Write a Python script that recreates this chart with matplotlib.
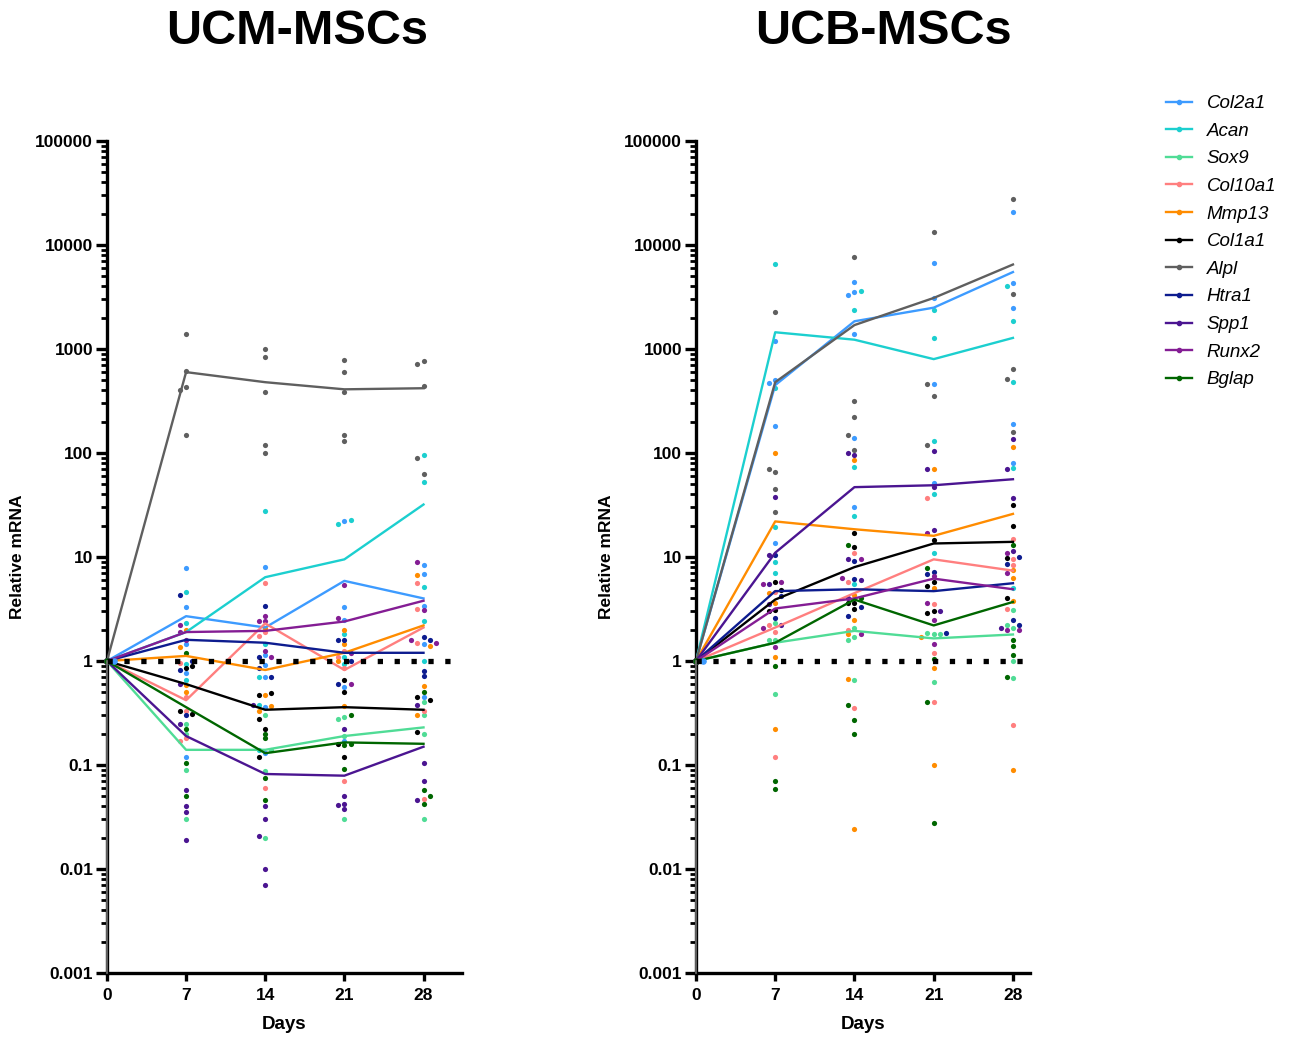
import numpy as np
import matplotlib
matplotlib.use("Agg")
import matplotlib.pyplot as plt
from matplotlib.ticker import LogLocator, FixedLocator, FixedFormatter, NullFormatter
from matplotlib.lines import Line2D

plt.rcParams['font.family'] = ['Liberation Sans', 'DejaVu Sans']

genes = ["Col2a1", "Acan", "Sox9", "Col10a1", "Mmp13", "Col1a1",
         "Alpl", "Htra1", "Spp1", "Runx2", "Bglap"]
colors = ["#3d9bff", "#1ccfcf", "#50dc96", "#ff7f7f", "#ff8c00", "#000000",
          "#5f5f5f", "#0d1c8f", "#4b1591", "#841d94", "#006600"]
days = [0, 7, 14, 21, 28]

# mean lines (day 7, 14, 21, 28), day 0 = 1
ucm_mean = [
    [2.7, 2.1, 5.9, 4.0],      # Col2a1
    [1.9, 6.4, 9.5, 32],       # Acan
    [0.14, 0.14, 0.19, 0.23],  # Sox9
    [0.42, 2.3, 0.82, 2.1],    # Col10a1
    [1.12, 0.82, 1.2, 2.2],    # Mmp13
    [0.6, 0.34, 0.36, 0.34],   # Col1a1
    [600, 480, 410, 420],      # Alpl
    [1.6, 1.5, 1.2, 1.2],      # Htra1
    [0.19, 0.082, 0.079, 0.15],  # Spp1
    [1.9, 1.95, 2.4, 3.8],     # Runx2
    [0.36, 0.13, 0.165, 0.16], # Bglap
]
ucb_mean = [
    [450, 1850, 2500, 5500],
    [1450, 1230, 800, 1280],
    [1.5, 1.95, 1.65, 1.8],
    [2.1, 4.5, 9.5, 7.4],
    [22, 18.5, 16, 26],
    [3.9, 8, 13.5, 14],
    [480, 1700, 3100, 6500],
    [4.7, 4.9, 4.7, 5.6],
    [11, 47, 49, 56],
    [3.2, 4, 6.2, 4.9],
    [1.5, 3.9, 2.2, 3.7],
]

# individual replicates (day 7, 14, 21, 28)
ucm_pts = [
    [[7.8, 3.3, 1.45, 0.77, 0.12], [8.0, 1.14, 0.92, 0.7, 0.36, 0.13], [22, 3.3, 2.5, 0.56, 0.17], [8.4, 6.9, 3.4, 1.45, 0.45]],
    [[4.6, 2.3, 0.94, 0.66], [27.6, 1.45, 0.7, 0.38, 0.14], [21, 22.5, 1.8, 0.94, 1.1], [95, 53, 5.2, 2.4, 1.0]],
    [[0.25, 0.2, 0.09, 0.03], [0.3, 0.14, 0.088, 0.02], [0.29, 0.28, 0.19, 0.03], [0.4, 0.3, 0.2, 0.03]],
    [[0.95, 0.45, 0.33, 0.18, 0.17], [5.6, 1.9, 1.75, 0.06], [1.25, 1.1, 0.85, 0.07], [5.6, 3.2, 1.5, 0.33, 0.047]],
    [[2.0, 1.36, 0.59, 0.5], [2.1, 0.47, 0.37, 0.33], [2.0, 1.45, 1.0, 0.37], [6.7, 1.4, 0.57, 0.3]],
    [[0.9, 0.85, 0.33, 0.31], [0.47, 0.49, 0.28, 0.22, 0.12], [0.66, 0.5, 0.16, 0.12], [0.45, 0.42, 0.21]],
    [[1400, 620, 430, 400, 150], [1000, 830, 390, 120, 100], [780, 600, 390, 150, 130], [760, 720, 440, 90, 63]],
    [[4.3, 1.0, 0.82, 0.3], [3.4, 1.1, 0.85, 0.7], [1.6, 1.6, 1.0, 0.6], [1.7, 1.6, 0.72, 0.8]],
    [[0.6, 0.25, 0.057, 0.04, 0.035, 0.019], [0.38, 0.04, 0.03, 0.021, 0.01, 0.007], [0.22, 0.05, 0.042, 0.041, 0.038], [0.38, 0.105, 0.07, 0.046]],
    [[2.2, 1.6, 1.9], [2.7, 2.4, 2.4, 1.25, 1.1], [5.4, 2.6, 1.2, 0.6], [9, 1.6, 1.5, 3.1]],
    [[1.2, 0.22, 0.105, 0.05], [0.2, 0.18, 0.075, 0.046], [0.3, 0.16, 0.155, 0.092], [0.5, 0.05, 0.057, 0.042]],
]
ucb_pts = [
    [[1200, 500, 470, 180, 13.5], [4400, 3500, 3300, 1400, 140, 30], [6700, 3100, 460, 52], [21000, 4300, 2500, 190, 80]],
    [[6600, 420, 19.5, 9, 7], [3600, 2400, 73, 25, 5.5], [2400, 1270, 130, 40, 11], [4000, 1850, 480, 72, 5]],
    [[2.3, 1.6, 1.6, 0.48], [2.1, 1.7, 1.6, 0.66], [1.8, 1.85, 1.8, 0.63], [2.1, 2.2, 3.1, 1.0, 0.68]],
    [[4.6, 2.2, 1.9, 0.12], [11, 5.8, 2.0, 0.35], [37, 3.5, 1.2, 0.4], [15, 9.5, 8.4, 3.2, 0.24]],
    [[100, 4.5, 3.6, 1.1, 0.22], [85, 4.3, 2.5, 1.8, 0.67, 0.024], [70, 5.0, 1.7, 0.85, 0.1], [115, 7.5, 6.3, 3.8, 0.09]],
    [[5.8, 4.8, 3.1, 3.0], [17, 12.5, 3.6, 3.2, 3.6], [14.6, 5.8, 5.3, 3.0, 2.9], [32, 20, 9.8, 4.0]],
    [[2250, 66, 70, 45, 27], [7600, 320, 220, 150, 106], [13300, 460, 350, 120], [27500, 3400, 650, 520, 160]],
    [[10.5, 4.2, 2.6], [9.2, 6.2, 3.3, 2.7], [7.2, 6.8, 1.85], [10, 8.5, 2.5, 2.2]],
    [[38, 10.5, 5.5, 3.5, 2.2], [100, 95, 9.5, 6, 4], [105, 70, 47, 18, 3], [135, 70, 37, 11.5, 2.1]],
    [[5.8, 5.5, 2.1, 1.35], [9.5, 6.3, 1.8], [17, 3.6, 2.5, 1.45, 6.5], [11, 7, 2.0, 2.0]],
    [[0.9, 0.059, 0.07], [13, 4.0, 0.38, 0.27, 0.2], [7.8, 1.05, 0.4, 0.028], [13, 1.6, 1.4, 1.15, 0.7]],
]


def jitter(pts):
    # spread overlapping dots sideways like the original dot plot
    out = []
    for d in range(4):
        items = [(np.log10(v), g) for g in range(len(pts)) for v in pts[g][d]]
        placed = []
        for lv, g in items:
            for off in [0, -0.55, 0.55, -1.1, 1.1]:
                if all(abs(lv - pl) > 0.04 for pl, po in placed if po == off):
                    break
            placed.append((lv, off))
            out.append((g, days[d + 1] + off, 10 ** lv))
    return out


fig = plt.figure(figsize=(12.9, 10.41), dpi=100)
ax1 = fig.add_axes([0.0829, 0.0653, 0.2752, 0.7992])
ax2 = fig.add_axes([0.5395, 0.0653, 0.2589, 0.7992])

for ax, means, pts, xmax in [(ax1, ucm_mean, ucm_pts, 31.4), (ax2, ucb_mean, ucb_pts, 29.5)]:
    ax.set_yscale('log')
    ax.set_ylim(0.001, 100000)
    ax.set_xlim(0, xmax)
    for g in range(len(genes)):
        ax.plot(days, [1] + means[g], color=colors[g], lw=1.7, zorder=3)
        ax.scatter([0], [1], s=14, color=colors[g], zorder=4, clip_on=False)
    ax.scatter([0.6], [1], s=14, color=colors[0], zorder=4)
    for g, x, v in jitter(pts):
        ax.scatter([x], [v], s=14, color=colors[g], zorder=2, linewidths=0)
    ax.plot([0, xmax], [1, 1], color='black', lw=3.8, ls=(0, (1, 2.2)),
            dash_capstyle='butt', zorder=5)
    ax.plot([0, 0], [0.001, 1], color='#707070', lw=1.2, zorder=6, clip_on=False)

    for s in ['top', 'right']:
        ax.spines[s].set_visible(False)
    for s in ['left', 'bottom']:
        ax.spines[s].set_linewidth(2.4)
    ax.yaxis.set_major_locator(FixedLocator([0.001, 0.01, 0.1, 1, 10, 100, 1000, 10000, 100000]))
    ax.yaxis.set_major_formatter(FixedFormatter(['0.001', '0.01', '0.1', '1', '10', '100', '1000', '10000', '100000']))
    ax.yaxis.set_minor_locator(LogLocator(base=10, subs=np.arange(2, 10), numticks=20))
    ax.yaxis.set_minor_formatter(NullFormatter())
    ax.tick_params(axis='y', which='major', length=8, width=2.4, labelsize=12.5, pad=2)
    ax.tick_params(axis='y', which='minor', length=4.5, width=2)
    ax.set_xticks([0, 7, 14, 21, 28])
    ax.tick_params(axis='x', which='major', length=6, width=2.4, labelsize=12.5, pad=5)
    for lab in ax.get_xticklabels() + ax.get_yticklabels():
        lab.set_fontweight('bold')
    ax.set_xlabel('Days', fontsize=13.5, fontweight='bold', labelpad=9)
    ax.set_ylabel('Relative mRNA', fontsize=12.5, fontweight='bold', labelpad=7)

fig.text(0.230, 0.970, 'UCM-MSCs', fontsize=35, fontweight='bold', ha='center', va='center')
fig.text(0.685, 0.970, 'UCB-MSCs', fontsize=35, fontweight='bold', ha='center', va='center')

handles = [Line2D([0], [0], color=c, lw=1.7, marker='o', markersize=3) for c in colors]
leg = fig.legend(handles, genes, loc='upper left', bbox_to_anchor=(0.891, 0.925),
                 frameon=False, prop={'style': 'italic', 'size': 13.5},
                 handlelength=1.35, handletextpad=0.8, labelspacing=0.56)

fig.savefig('out.png', dpi=100)
